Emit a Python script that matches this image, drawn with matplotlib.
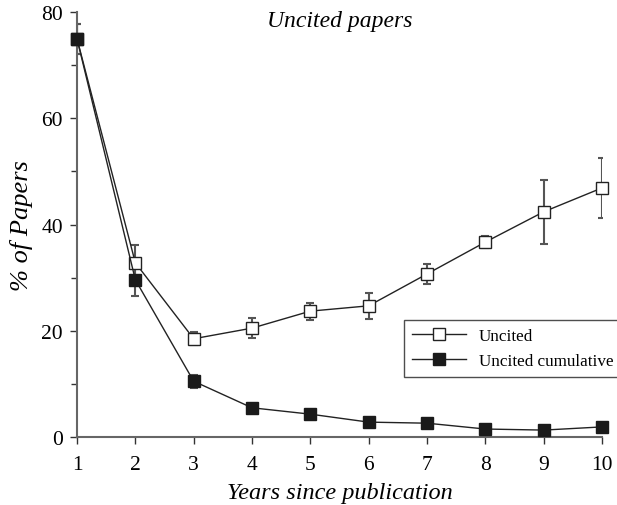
import matplotlib
matplotlib.use("Agg")
import matplotlib.pyplot as plt
from matplotlib.ticker import MultipleLocator

plt.rcParams['font.family'] = ['Liberation Serif', 'DejaVu Serif']

years = [1, 2, 3, 4, 5, 6, 7, 8, 9, 10]
uncited = [75.0, 32.8, 18.5, 20.5, 23.7, 24.7, 30.7, 36.7, 42.4, 46.9]
uncited_err = [2.8, 3.3, 1.2, 1.9, 1.6, 2.5, 1.9, 1.2, 6.0, 5.6]
cumulative = [75.0, 29.6, 10.5, 5.5, 4.3, 2.8, 2.6, 1.5, 1.3, 1.9]
cumulative_err = [2.8, 3.0, 1.2, 0.5, 0.3, 0.3, 0.3, 0.3, 0.3, 0.3]

fig = plt.figure(figsize=(6.17, 5.06), dpi=100)
ax = fig.add_axes([0.1248, 0.1344, 0.8509, 0.8396])

ax.errorbar(years, uncited, yerr=uncited_err, fmt='none', ecolor='#555555',
            elinewidth=1.5, capsize=3, capthick=1.5, zorder=2)
ax.errorbar(years, cumulative, yerr=cumulative_err, fmt='none', ecolor='#555555',
            elinewidth=1.5, capsize=3, capthick=1.5, zorder=2)
ax.plot(years, uncited, '-s', color='#222222', lw=1.0, markerfacecolor='white',
        markeredgecolor='#222222', markersize=8, markeredgewidth=1.0,
        label='Uncited', zorder=3, clip_on=False)
ax.plot(years, cumulative, '-s', color='#222222', lw=1.0, markerfacecolor='#1a1a1a',
        markeredgecolor='#1a1a1a', markersize=8, label='Uncited cumulative',
        zorder=4, clip_on=False)

ax.set_xlim(1, 10)
ax.set_ylim(0, 80)
ax.set_xticks(years)
ax.yaxis.set_major_locator(MultipleLocator(20))
ax.yaxis.set_minor_locator(MultipleLocator(10))
for s in ['top', 'right']:
    ax.spines[s].set_visible(False)
for s in ['left', 'bottom']:
    ax.spines[s].set_color('#666666')
    ax.spines[s].set_linewidth(1.5)
ax.tick_params(axis='both', which='both', direction='out', color='#333333',
               labelsize=15.5, width=1.0)
ax.tick_params(axis='x', which='major', length=5, pad=8)
ax.tick_params(axis='y', which='major', length=5, pad=5)
ax.tick_params(axis='y', which='minor', length=4)

ax.set_xlabel('Years since publication', fontsize=17.5, style='italic', labelpad=6)
ax.set_ylabel('% of Papers', fontsize=19, style='italic', labelpad=6)
ax.text(0.5, 1.006, 'Uncited papers', transform=ax.transAxes, ha='center', va='top',
        fontsize=17, style='italic')

leg = fig.legend(loc='upper left', bbox_to_anchor=(404/617, 1 - 321/506),
                 fontsize=12.3, frameon=True, fancybox=False, edgecolor='#222222',
                 handlelength=3.2, borderpad=0.45, labelspacing=0.55,
                 handletextpad=0.75, borderaxespad=0)
leg.get_frame().set_linewidth(1.0)

fig.savefig('out.png', dpi=100)
